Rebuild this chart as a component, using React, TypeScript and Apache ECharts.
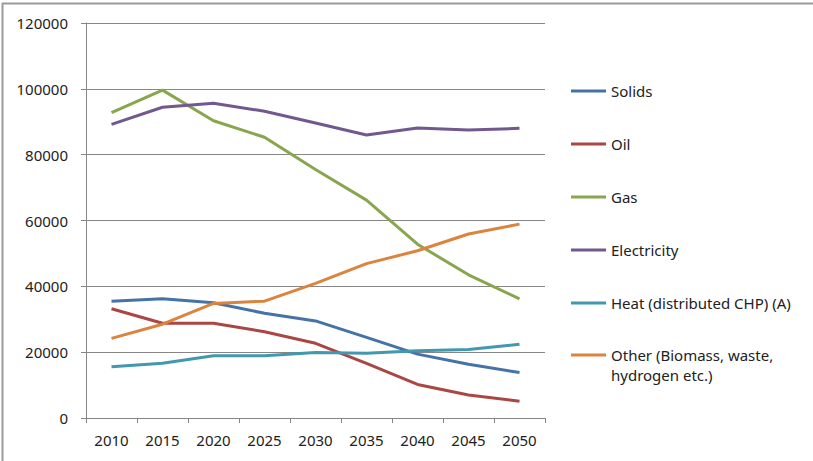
import React, { useEffect, useRef } from "react";
import * as echarts from "echarts";

const years = ["2010", "2015", "2020", "2025", "2030", "2035", "2040", "2045", "2050"];
const solids = [35500, 36200, 35000, 31800, 29500, 24500, 19400, 16300, 13800];
const oil = [33200, 28800, 28800, 26200, 22700, 16600, 10200, 7000, 5100];
const gas = [92800, 99600, 90300, 85300, 75500, 66200, 52800, 43500, 36200];
const electricity = [89200, 94400, 95600, 93200, 89600, 86000, 88100, 87500, 88000];
const heat = [15600, 16600, 18900, 18900, 19900, 19700, 20400, 20800, 22400];
const other = [24200, 28500, 34800, 35500, 40900, 46900, 50800, 55900, 58900];

const seriesNames = [
  "Solids",
  "Oil",
  "Gas",
  "Electricity",
  "Heat (distributed CHP) (A)",
  "Other (Biomass, waste,\nhydrogen etc.)",
];
const seriesData = [solids, oil, gas, electricity, heat, other];
const colors = ["#4572A7", "#AA4643", "#89A54E", "#71588F", "#4198AF", "#DB843D"];

const FONT = "'Noto Sans', 'Open Sans', sans-serif";

export default function App() {
  const ref = useRef<HTMLDivElement>(null);
  useEffect(() => {
    if (!ref.current) return;
    const chart = echarts.init(ref.current, undefined, { renderer: "svg" });
    const legendText = {
      fontFamily: FONT,
      fontSize: 15,
      color: "#222",
      lineHeight: 20,
    };
    chart.setOption({
      animation: false,
      backgroundColor: "#fff",
      grid: { left: 86, right: 268, top: 23, bottom: 43, containLabel: false },
      xAxis: {
        type: "category",
        data: years,
        boundaryGap: true,
        axisLine: { lineStyle: { color: "#868686", width: 1 } },
        axisTick: { show: true, length: 5, lineStyle: { color: "#868686" } },
        axisLabel: { fontFamily: FONT, fontSize: 15, color: "#222", margin: 14 },
        splitLine: { show: false },
      },
      yAxis: {
        type: "value",
        min: 0,
        max: 120000,
        interval: 20000,
        axisLine: { show: true, lineStyle: { color: "#868686", width: 1 } },
        axisTick: { show: true, length: 5, lineStyle: { color: "#868686" } },
        axisLabel: {
          fontFamily: FONT,
          fontSize: 15,
          color: "#222",
          margin: 18,
          formatter: (v: number) => String(v),
        },
        splitLine: { show: true, lineStyle: { color: "#868686", width: 1 } },
      },
      legend: [
        {
          orient: "vertical",
          left: 571,
          top: 81,
          padding: 0,
          icon: "rect",
          itemWidth: 35,
          itemHeight: 3,
          itemGap: 33,
          textStyle: legendText,
          data: seriesNames.slice(0, 5),
        },
        {
          orient: "vertical",
          left: 571,
          top: 325,
          padding: 0,
          icon: "rect",
          itemWidth: 35,
          itemHeight: 3,
          textStyle: legendText,
          formatter: (name: string) => "\n" + name,
          data: seriesNames.slice(5),
        },
      ],
      graphic: [
        {
          type: "line",
          shape: { x1: 2, y1: 3.5, x2: 813, y2: 3.5 },
          style: { stroke: "#9a9a9a", lineWidth: 2 },
          silent: true,
        },
        {
          type: "line",
          shape: { x1: 2.5, y1: 3, x2: 2.5, y2: 461 },
          style: { stroke: "#9a9a9a", lineWidth: 2 },
          silent: true,
        },
      ],
      series: seriesNames.map((name, i) => ({
        name,
        type: "line",
        data: seriesData[i],
        symbol: "none",
        color: colors[i],
        lineStyle: { width: 3, color: colors[i] },
      })),
    });
    return () => chart.dispose();
  }, []);
  return (
    <div
      ref={ref}
      style={{ position: "fixed", left: 0, top: 0, width: 813, height: 461 }}
    />
  );
}
